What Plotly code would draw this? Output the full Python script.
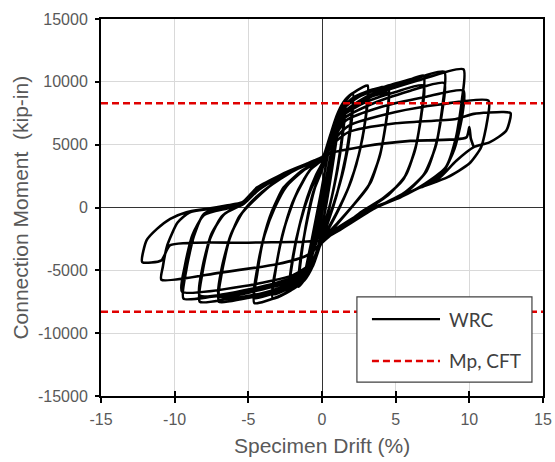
import plotly.graph_objects as go

# Hysteresis record of the WRC connection.
# Each vertex is (specimen drift %, connection moment kip-in).
cyc_elastic = [(0, 0), (0.4, 2800), (0.1, 700), (-0.4, -2400), (-0.1, -500),
               (0.6, 4300), (0.2, 1000), (-0.6, -3600), (-0.2, -800),
               (0.6, 4200), (0.2, 900), (-0.6, -3500), (-0.2, -700),
               (0.9, 6000), (0.4, 2000), (-0.1, -1000), (-0.9, -4800), (-0.4, -1800), (0.1, 1200),
               (1.2, 7400), (0.7, 3200), (0.1, -900), (-1.2, -5600), (-0.7, -2600), (-0.1, 1000)]

cyc_1p6 = [(0.4, 4200), (0.9, 6600), (1.3, 8000), (1.6, 8600), (1.45, 6500), (1.1, 3500), (0.6, 500),
           (0, -2000), (-0.5, -4000), (-1.1, -5600), (-1.6, -6300), (-1.45, -4300), (-1.1, -1500),
           (-0.6, 1200), (0, 3000),
           (0.5, 5200), (1.0, 7200), (1.6, 8300), (1.45, 6200), (1.05, 3000), (0.5, 0), (0, -2200),
           (-0.6, -4300), (-1.6, -6100), (-1.45, -4000), (-1.0, -1000), (-0.5, 1500), (0, 3200)]

cyc_2p1 = [(0.5, 5500), (1.1, 7600), (1.6, 8600), (2.1, 9100), (1.95, 6800), (1.6, 4000), (1.0, 1000),
           (0.4, -1200), (0, -2400), (-0.6, -4600), (-1.2, -5800), (-2.2, -6600), (-2.0, -4300),
           (-1.6, -1800), (-1.0, 800), (-0.4, 2600), (0, 3500),
           (0.6, 5600), (1.2, 7400), (2.1, 8700), (1.95, 6300), (1.5, 3200), (0.8, 300), (0, -2300),
           (-0.6, -4500), (-2.2, -6400), (-2.0, -4100), (-1.5, -1300), (-0.8, 1300), (0, 3400)]

cyc_3p1 = [(0.6, 5800), (1.2, 7800), (2.0, 9000), (2.8, 9600), (3.1, 9700), (3.0, 7500), (2.6, 4700),
           (2.0, 2200), (1.2, 0), (0.4, -1800), (0, -2600), (-0.6, -4600), (-1.3, -5900), (-2.4, -6800),
           (-3.35, -7250), (-3.15, -5000), (-2.7, -2300), (-2.0, 400), (-1.2, 2300), (-0.5, 3400), (0, 3800),
           (0.6, 5700), (1.3, 7600), (2.2, 8700), (3.1, 9200), (2.95, 7000), (2.5, 4200), (1.8, 1600),
           (1.0, -400), (0, -2600), (-0.7, -4700), (-1.5, -5900), (-3.35, -6900), (-3.1, -4600),
           (-2.6, -1800), (-1.8, 900), (-0.8, 3000), (0, 3800)]

cyc_4p5 = [(0.6, 5900), (1.3, 7800), (2.2, 8800), (3.5, 9400), (4.5, 9600), (4.4, 7300), (4.0, 4500),
           (3.3, 2000), (2.2, 300), (1.0, -1300), (0, -2600), (-0.7, -4800), (-1.4, -6000), (-3.0, -7100),
           (-4.6, -7600), (-4.4, -5300), (-4.0, -2600), (-3.4, -300), (-2.6, 1600), (-1.4, 2900), (0, 3900),
           (0.6, 5700), (1.4, 7500), (2.6, 8500), (4.5, 9100), (4.35, 6800), (3.9, 4000), (3.1, 1600),
           (2.0, 0), (0.9, -1500), (0, -2700), (-0.8, -4800), (-1.6, -5900), (-3.2, -6800), (-4.6, -7200),
           (-4.4, -4900), (-3.9, -2200), (-3.2, 0), (-2.4, 1700), (-1.2, 3000), (0, 3900)]

cyc_6p9 = [(0.6, 5800), (1.3, 7700), (2.5, 8800), (4.5, 9700), (6.0, 10200), (6.9, 10500), (6.8, 8000),
           (6.4, 5000), (5.7, 2600), (4.5, 1000), (3.0, -200), (1.2, -1700), (0, -2700), (-0.7, -4800),
           (-1.5, -5900), (-3.5, -6800), (-5.5, -7300), (-7.0, -7500), (-6.8, -5200), (-6.3, -2600),
           (-5.6, -700), (-4.5, 700), (-3.0, 2200), (-1.5, 3200), (0, 3900),
           (0.6, 5600), (1.4, 7300), (3.0, 8400), (5.0, 9200), (6.9, 9700), (6.75, 7400), (6.3, 4500),
           (5.5, 2200), (4.2, 800), (2.6, -400), (1.0, -1900), (0, -2700), (-0.8, -4700), (-1.7, -5700),
           (-4.0, -6500), (-7.0, -7100), (-6.8, -4800), (-6.2, -2200), (-5.4, -400), (-4.4, 900),
           (-2.8, 2300), (-1.3, 3300), (0, 3900)]

cyc_8p3 = [(0.6, 5600), (1.4, 7500), (3.0, 8800), (5.5, 9900), (8.3, 10800), (8.2, 8300), (7.8, 5300),
           (7.1, 2900), (5.8, 1300), (3.5, -100), (1.2, -1800), (0, -2700), (-0.7, -4700), (-1.6, -5800),
           (-4.0, -6800), (-6.5, -7300), (-8.3, -7500), (-8.1, -5100), (-7.6, -2500), (-6.8, -700),
           (-5.4, 400), (-4.4, 1500), (-2.8, 2600), (-1.2, 3400), (0, 3900),
           (0.6, 5400), (1.5, 7100), (3.5, 8300), (6.0, 9300), (8.3, 9900), (8.15, 7600), (7.7, 4800),
           (6.9, 2600), (5.5, 1100), (3.2, -300), (1.0, -1900), (0, -2700), (-0.8, -4600), (-1.8, -5500),
           (-4.5, -6400), (-8.3, -7000), (-8.1, -4700), (-7.5, -2100), (-6.6, -500), (-5.3, 300),
           (-4.3, 1400), (-2.6, 2600), (-1.0, 3500), (0, 3900)]

cyc_9p6 = [(0.6, 5500), (1.5, 7400), (3.5, 8900), (6.5, 10100), (9.6, 11000), (9.5, 8600), (9.1, 5600),
           (8.4, 3200), (7.0, 1900), (5.3, 800), (3.0, -300), (0.8, -1900), (0, -2700), (-0.8, -4700),
           (-1.8, -5700), (-5.0, -6700), (-7.5, -7100), (-9.4, -7250), (-9.2, -4900), (-8.7, -2300),
           (-8.0, -500), (-6.5, 100), (-5.4, 400), (-4.4, 1500), (-2.6, 2700), (-0.6, 3700), (0, 4000),
           (0.7, 5300), (1.6, 6900), (4.0, 8000), (7.0, 8800), (9.6, 9300), (9.5, 7200), (9.0, 4700),
           (8.2, 2800), (6.6, 1600), (5.0, 700), (2.8, -400), (0.8, -2000), (0, -2800), (-0.8, -4500),
           (-2.0, -5400), (-5.0, -6200), (-9.5, -6700), (-9.3, -4600), (-8.8, -2200), (-8.0, -600),
           (-6.2, 0), (-5.2, 500), (-4.2, 1600), (-2.5, 2700), (-0.6, 3600), (0, 3900)]

cyc_11p3 = [(0.7, 5200), (1.8, 6500), (5.0, 7600), (8.0, 8200), (11.3, 8500), (11.2, 6800), (10.8, 4800),
            (10.0, 3500), (8.5, 2400), (6.7, 1600), (5.0, 700), (2.8, -500), (0.8, -2000), (0, -2800),
            (-1.0, -3800), (-3.0, -4500), (-7.0, -5200), (-10.9, -5750), (-10.8, -4700), (-10.5, -3000),
            (-9.8, -1200), (-9.0, -400), (-7.5, -100), (-5.5, 300), (-4.4, 1400), (-2.6, 2600),
            (-0.6, 3600), (0, 3900)]

cyc_12p9 = [(0.7, 5000), (1.8, 6000), (5.0, 6700), (9.1, 7050), (10.3, 7450), (12.3, 7600), (12.8, 7500),
            (12.5, 6100), (11.4, 5200), (10.3, 4800), (9.1, 3700), (8.0, 2400), (6.65, 1600), (5.3, 800),
            (3.0, -240), (0.8, -1830), (0, -2600), (-1.0, -2700), (-5.0, -2800), (-10.3, -3000),
            (-10.9, -4200), (-12.2, -4340), (-11.9, -2600), (-11.2, -1700), (-10.3, -900), (-9.2, -370),
            (-7.8, -100), (-6.5, 160), (-5.4, 420), (-4.4, 1600), (-2.6, 2700), (-0.6, 3700), (0, 4000)]

cyc_final = [(0.5, 4300), (3.0, 4900), (6.0, 5300), (9.8, 5580), (10.0, 6400), (10.1, 5500), (10.3, 4800)]

mp_cft = 8300  # plastic moment of the CFT, kip-in

x_ticks = [-15, -10, -5, 0, 5, 10, 15]
x_labels = ["-15", "-10", "-5", "0", "5", "10", "15"]
y_ticks = [-15000, -10000, -5000, 0, 5000, 10000, 15000]
y_labels = ["-15000", "-10000", "-5000", "0", "5000", "10000", "15000"]

cycles = [cyc_elastic, cyc_1p6, cyc_2p1, cyc_3p1, cyc_4p5, cyc_6p9,
          cyc_8p3, cyc_9p6, cyc_11p3, cyc_12p9, cyc_final]
drift = [p[0] for c in cycles for p in c]
moment = [p[1] for c in cycles for p in c]

fig = go.Figure()

fig.add_trace(go.Scatter(
    x=drift, y=moment, mode="lines", name="WRC",
    line=dict(color="black", width=2.6, shape="spline", smoothing=0.6),
    showlegend=False
))

for sign in (1, -1):
    fig.add_trace(go.Scatter(
        x=[-15, 15], y=[sign * mp_cft] * 2, mode="lines", name="Mp, CFT",
        line=dict(color="#e00000", width=2.4, dash="7px,4px"),
        showlegend=False
    ))

# helper trace so the overlay axis carrying the inner tick marks gets drawn
fig.add_trace(go.Scatter(x=[-15], y=[0], xaxis="x2", mode="none",
                         showlegend=False, hoverinfo="skip"))

tick_font = dict(family="Liberation Sans, Arial", size=16, color="#595959")
title_font = dict(family="Liberation Sans, Arial", size=21, color="#595959")

fig.update_layout(
    width=555, height=462,
    margin=dict(l=101, r=12, t=19, b=66, autoexpand=False),
    paper_bgcolor="white", plot_bgcolor="white",
    xaxis=dict(range=[-15, 15], tickvals=x_ticks, ticktext=x_labels, automargin=False,
               showgrid=True, gridcolor="#d9d9d9", gridwidth=1,
               zeroline=True, zerolinecolor="#333333", zerolinewidth=1.3,
               showline=True, linecolor="black", linewidth=2, mirror=True,
               ticks="outside", ticklen=5, tickwidth=1.5, tickcolor="black",
               tickfont=tick_font, ticklabelstandoff=3),
    xaxis2=dict(range=[-15, 15], overlaying="x", side="bottom", tickvals=x_ticks, automargin=False,
                showticklabels=False, showgrid=False, zeroline=False, showline=False,
                ticks="inside", ticklen=5, tickwidth=1.5, tickcolor="black"),
    yaxis=dict(range=[-15000, 15000], tickvals=y_ticks, ticktext=y_labels, automargin=False,
               showgrid=True, gridcolor="#d9d9d9", gridwidth=1,
               zeroline=True, zerolinecolor="#333333", zerolinewidth=1.3,
               showline=True, linecolor="black", linewidth=2, mirror=True,
               ticks="outside", ticklen=4, tickwidth=1.5, tickcolor="black",
               tickfont=tick_font, ticklabelstandoff=4),
    showlegend=False,
)

# legend box drawn by hand to match the boxed Excel legend
fig.add_shape(type="rect", xref="paper", yref="paper", x0=0.579, x1=0.975, y0=0.037, y1=0.263,
              fillcolor="white", line=dict(color="#404040", width=1.2), layer="above")
fig.add_shape(type="line", xref="paper", yref="paper", x0=0.613, x1=0.767, y0=0.204, y1=0.204,
              line=dict(color="black", width=2.2), layer="above")
fig.add_shape(type="line", xref="paper", yref="paper", x0=0.613, x1=0.767, y0=0.093, y1=0.093,
              line=dict(color="#e00000", width=2.4, dash="7px,4px"), layer="above")

legend_font = dict(family="Lato, Liberation Sans", size=19, color="#404040")
fig.add_annotation(xref="paper", yref="paper", x=0.783, y=0.204, text="WRC", showarrow=False,
                   xanchor="left", yanchor="middle", font=legend_font)
fig.add_annotation(xref="paper", yref="paper", x=0.783, y=0.093, text="Mp, CFT", showarrow=False,
                   xanchor="left", yanchor="middle", font=legend_font)

# axis titles
fig.add_annotation(xref="paper", yref="paper", x=-0.183, y=0.5, text="Connection Moment\u00a0 (kip-in)",
                   textangle=-90, showarrow=False, xanchor="center", yanchor="middle", font=title_font)
fig.add_annotation(xref="paper", yref="paper", x=0.5, y=-0.13, text="Specimen Drift (%)",
                   showarrow=False, xanchor="center", yanchor="middle", font=title_font)

# the page body has a default margin; drop it so the figure sits at the window corner
fig.write_html("out.html", config={"displayModeBar": False},
               post_script="document.body.style.margin='0';")
